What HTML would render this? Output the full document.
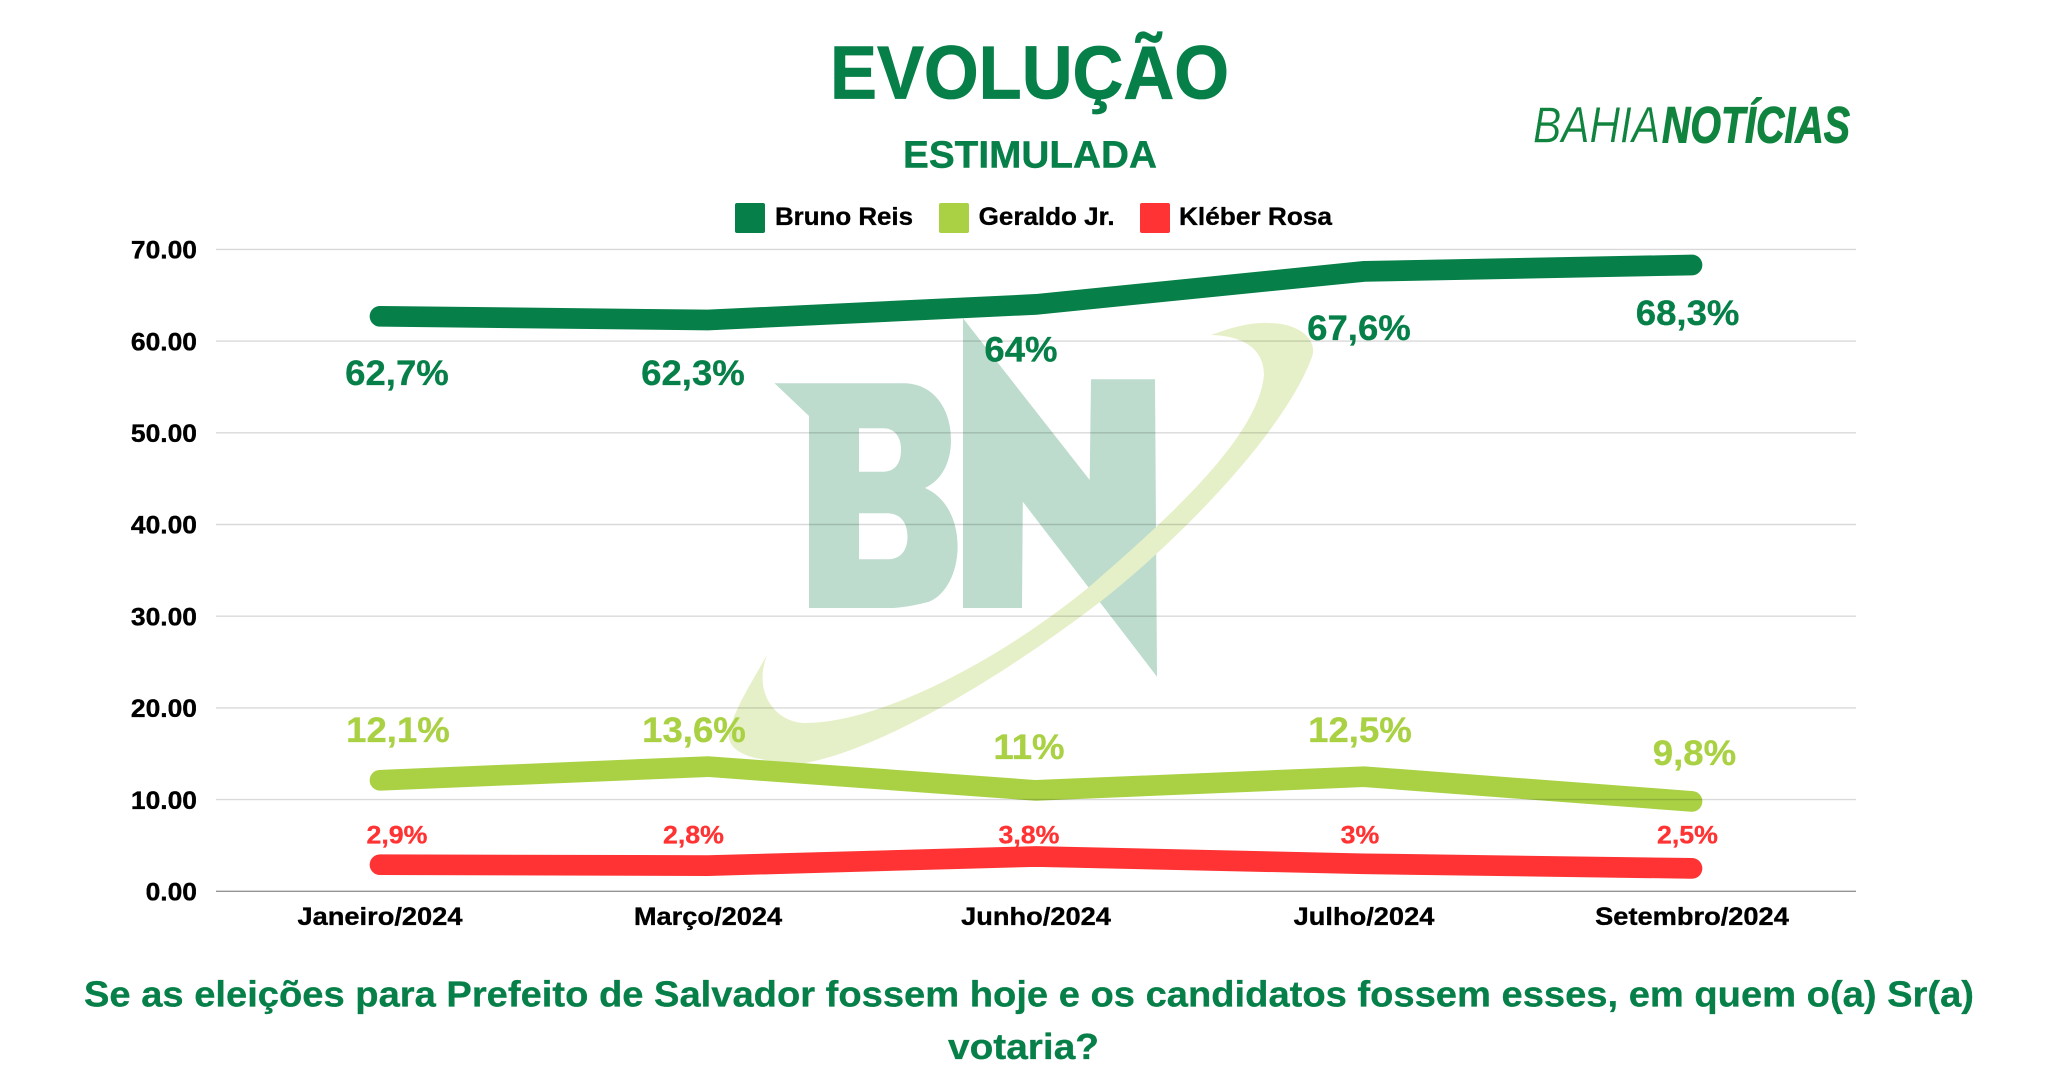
<!DOCTYPE html>
<html lang="pt-BR">
<head>
<meta charset="utf-8">
<title>Evolução - Estimulada</title>
<style>
  html, body { margin: 0; padding: 0; background: #fff; }
  #stage { display: block; width: 2057px; height: 1080px; font-family: "Liberation Sans", sans-serif; font-weight: 700; }
</style>
</head>
<body>
<svg id="stage" xmlns="http://www.w3.org/2000/svg" width="2057" height="1080" viewBox="0 0 2057 1080">
  <rect x="0" y="0" width="2057" height="1080" fill="#ffffff"/>

  <text x="830" y="98.3" font-size="75" fill="#067f48" stroke="#067f48" stroke-width="0.8" textLength="399" lengthAdjust="spacingAndGlyphs">EVOLUÇÃO</text>
  <text x="903" y="167.7" font-size="38" fill="#067f48" stroke="#067f48" stroke-width="0.4" textLength="254" lengthAdjust="spacingAndGlyphs">ESTIMULADA</text>

  <g font-size="51" font-style="italic">
    <text x="1533" y="142.7" font-weight="400" fill="#10843f" stroke="#ffffff" stroke-width="0.4" textLength="127" lengthAdjust="spacingAndGlyphs">BAHIA</text>
    <text x="1662" y="142.7" font-weight="700" fill="#10843f" stroke="#10843f" stroke-width="1" textLength="188" lengthAdjust="spacingAndGlyphs">NOTÍCIAS</text>
  </g>

  <g font-size="25" fill="#000000" stroke="#000000" stroke-width="0.35">
    <rect x="735" y="203" width="30" height="30" rx="2" fill="#067f48" stroke="none"/>
    <text x="775" y="225" textLength="138" lengthAdjust="spacingAndGlyphs">Bruno Reis</text>
    <rect x="939" y="203" width="30" height="30" rx="2" fill="#a9d143" stroke="none"/>
    <text x="978.6" y="225" textLength="136" lengthAdjust="spacingAndGlyphs">Geraldo Jr.</text>
    <rect x="1140" y="203" width="30" height="30" rx="2" fill="#ff3333" stroke="none"/>
    <text x="1179" y="225" textLength="153" lengthAdjust="spacingAndGlyphs">Kléber Rosa</text>
  </g>

  <g>
    <path fill="#bddccd" fill-rule="evenodd" d="M774.5 383.3 L906 383.3 C935 385 951 410 951 440 C951 462 942 480 925 488 C946 497 957.6 520 957.6 546.7 C957.6 572 946 595 929 601.7 C917 605 905 607 893.6 608 L809 608 L809 416 Z M859 428.3 L859 471.7 L883 471.7 C896 471.7 901 462 901 450 C901 437 895 428.3 883 428.3 Z M859 513.3 L859 559.3 L887.3 559.3 C901 559.3 907.5 550 907.5 536.7 C907.5 522 900 513.3 887.3 513.3 Z"/>
    <path fill="#bddccd" d="M963 318.3 L1089.7 480 L1091 379.3 L1155 379.3 L1157 676.7 L1022.8 501.7 L1022 608 L963 608 Z"/>
    <path fill="#e6f0c8" d="M1211 335 C1245 336 1264 350 1264 375 C1258 440 1160 525 1089 587 C1000 660 880 723 805 723 C778 723 752 695 767 655 C750 685 733 712 729 733 C727 750 745 762 805 763 C870 752 985 690 1100 602 C1185 535 1285 430 1312 357 C1318 340 1300 323 1268 323 C1250 322 1230 328 1211 335 Z"/>
  </g>

  <g id="series-layer"></g>
  <g id="grid-layer"></g>
  <g id="y-tick-layer"></g>
  <g id="x-tick-layer"></g>
  <g id="label-layer"></g>

  <g font-size="36" fill="#067f48" stroke="#067f48" stroke-width="0.3">
    <text x="84" y="1006.7" textLength="1890" lengthAdjust="spacingAndGlyphs">Se as eleições para Prefeito de Salvador fossem hoje e os candidatos fossem esses, em quem o(a) Sr(a)</text>
    <text x="948" y="1059" textLength="151" lengthAdjust="spacingAndGlyphs">votaria?</text>
  </g>
</svg>

<script>
// Chart data
const categories = ["Janeiro/2024", "Março/2024", "Junho/2024", "Julho/2024", "Setembro/2024"];
const yTickValues = [0, 10, 20, 30, 40, 50, 60, 70];
const yTickLabels = ["0.00", "10.00", "20.00", "30.00", "40.00", "50.00", "60.00", "70.00"];
const brunoReisValues = [62.7, 62.3, 64, 67.6, 68.3];
const geraldoJrValues = [12.1, 13.6, 11, 12.5, 9.8];
const kleberRosaValues = [2.9, 2.8, 3.8, 3, 2.5];
const brunoReisLabels = ["62,7%", "62,3%", "64%", "67,6%", "68,3%"];
const geraldoJrLabels = ["12,1%", "13,6%", "11%", "12,5%", "9,8%"];
const kleberRosaLabels = ["2,9%", "2,8%", "3,8%", "3%", "2,5%"];

// Axis functions
const plotLeft = 216;
const plotRight = 1856;
const zeroY = 891.3;
const pxPerUnit = 9.17;
function xScale(index) {
  const band = (plotRight - plotLeft) / categories.length;
  return plotLeft + band * (index + 0.5);
}
function yScale(value) {
  return zeroY - value * pxPerUnit;
}

const NS = "http://www.w3.org/2000/svg";
function make(tag, parent, attrs, text) {
  const node = document.createElementNS(NS, tag);
  for (const key in attrs) node.setAttribute(key, attrs[key]);
  if (text !== undefined) node.textContent = text;
  parent.appendChild(node);
  return node;
}
function stretch(node, factor) {
  const natural = node.getComputedTextLength();
  node.setAttribute("textLength", (natural * factor).toFixed(2));
  node.setAttribute("lengthAdjust", "spacingAndGlyphs");
}

// Gridlines
const gridLayer = document.getElementById("grid-layer");
yTickValues.forEach(function (value) {
  const line = make("line", gridLayer, {
    x1: plotLeft, x2: plotRight, y1: yScale(value), y2: yScale(value),
    stroke: value === 0 ? "rgba(0,0,0,0.42)" : "rgba(0,0,0,0.15)",
    "stroke-width": 1.4
  });
  
  
});

// Y axis labels
const yTickLayer = document.getElementById("y-tick-layer");
yTickValues.forEach(function (value, i) {
  const tick = make("text", yTickLayer, {
    x: 197, y: yScale(value) + 9.2, "font-size": 25, fill: "#000000", stroke: "#000000",
    "stroke-width": 0.35, "text-anchor": "end"
  }, yTickLabels[i]);
  stretch(tick, 1.056);
  
  
});

// X axis labels
const xTickLayer = document.getElementById("x-tick-layer");
categories.forEach(function (category, i) {
  const tick = make("text", xTickLayer, {
    x: xScale(i), y: 925, "font-size": 25, fill: "#000000", stroke: "#000000",
    "stroke-width": 0.35, "text-anchor": "middle"
  }, category);
  stretch(tick, 1.089);
  
  
});

// Series lines
const seriesLayer = document.getElementById("series-layer");
function drawLine(values, color) {
  const points = values.map(function (value, i) {
    return xScale(i).toFixed(1) + "," + yScale(value).toFixed(1);
  }).join(" ");
  return make("polyline", seriesLayer, {
    points: points, fill: "none", stroke: color, "stroke-width": 20.7,
    "stroke-linecap": "round", "stroke-linejoin": "miter"
  });
}
const brunoLine = drawLine(brunoReisValues, "#067f48");


const geraldoLine = drawLine(geraldoJrValues, "#a9d143");


const kleberLine = drawLine(kleberRosaValues, "#ff3333");



// Value labels: hand-placed offsets from each point, as in the source layout
const labelLayer = document.getElementById("label-layer");
function drawLabels(values, labels, color, size, factor, nudgeX, nudgeY) {
  return values.map(function (value, i) {
    const label = make("text", labelLayer, {
      x: xScale(i) + nudgeX[i], y: yScale(value) + nudgeY[i],
      "font-size": size, fill: color, stroke: color, "stroke-width": 0.3, "text-anchor": "middle"
    }, labels[i]);
    stretch(label, factor);
    return label;
  });
}
const brunoLabelNodes = drawLabels(brunoReisValues, brunoReisLabels, "#067f48", 35.5, 1.03,
  [17, -15, -15, -5, -4.4], [68.7, 65, 57.3, 68.6, 60]);
brunoLabelNodes.forEach(function (node) {
  
  
});
const geraldoLabelNodes = drawLabels(geraldoJrValues, geraldoJrLabels, "#a9d143", 35.5, 1.03,
  [18, -14, -7, -4, 2.5], [-38.3, -24.6, -31.4, -34.7, -36.4]);
geraldoLabelNodes.forEach(function (node) {
  
  
});
const kleberLabelNodes = drawLabels(kleberRosaValues, kleberRosaLabels, "#ff3333", 25, 1.07,
  [17, -14.5, -7, -4, -4.5], [-21.2, -22.1, -13, -20.3, -24.9]);
kleberLabelNodes.forEach(function (node) {
  
  
});
</script>
</body>
</html>
